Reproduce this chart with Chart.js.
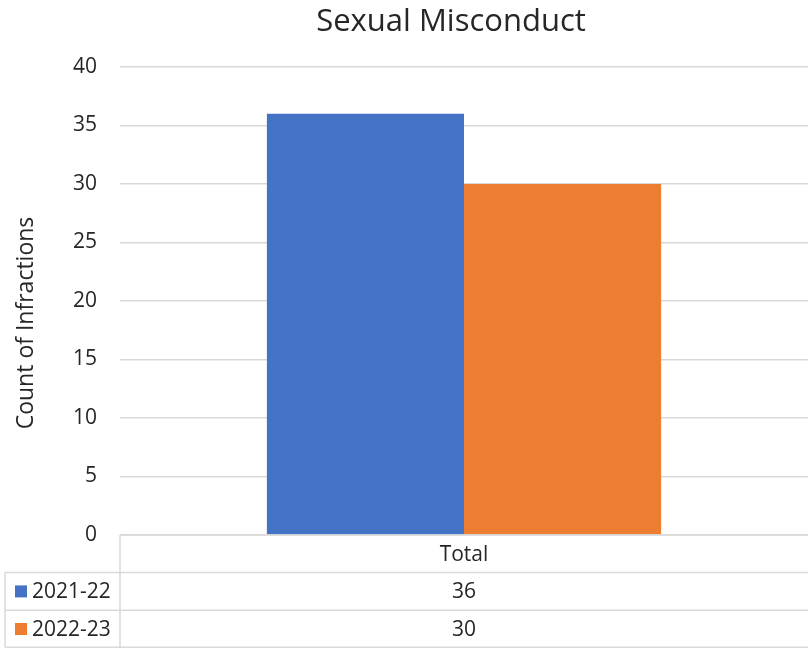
<!DOCTYPE html>
<html>
<head>
<meta charset="utf-8">
<title>Sexual Misconduct</title>
<script src="https://cdn.jsdelivr.net/npm/chart.js@4"></script>
<style>
  html, body { margin: 0; padding: 0; background: #fff; overflow: hidden; }
  #wrap { width: 808px; height: 649px; }
</style>
</head>
<body>
<div id="wrap"><canvas id="chart" width="808" height="649"></canvas></div>
<script>
// Chart data
const chartTitle = 'Sexual Misconduct';
const axisTitle = 'Count of Infractions';
const categories = ['Total'];
const seriesNames = ['2021-22', '2022-23'];
const values2122 = [36];
const values2223 = [30];
const seriesColors = ['#4472C4', '#ED7D31'];
const yMin = 0;
const yMax = 40;
const yStep = 5;

const textColor = '#262626';
const lineColor = '#d9d9d9';
const fontFamily = "'Open Sans', 'Noto Sans', sans-serif";

// Title, axis title and the data table under the plot
const tablePlugin = {
    id: 'excelTable',
    afterDraw(chart) {
        const ctx = chart.ctx;
        const area = chart.chartArea;
        const xScale = chart.scales.x;
        const rowH = 37.6;
        const tableLeft = 5;
        const right = chart.width;
        const top = area.bottom;
        const rows = [values2122, values2223];
        const bottom = top + rowH * (rows.length + 1) - 0.5;

        ctx.save();
        ctx.fillStyle = textColor;

        // chart title
        ctx.font = '31px ' + fontFamily;
        ctx.textAlign = 'center';
        ctx.textBaseline = 'alphabetic';
        ctx.fillText(chartTitle, (area.left + area.right) / 2 - 13, 31);

        // y axis title
        ctx.save();
        ctx.font = '23px ' + fontFamily;
        ctx.translate(33, (area.top + area.bottom) / 2 + 22);
        ctx.rotate(-Math.PI / 2);
        ctx.fillText(axisTitle, 0, 0);
        ctx.restore();

        // table lines
        ctx.strokeStyle = lineColor;
        ctx.lineWidth = 1.5;
        ctx.beginPath();
        ctx.moveTo(area.left, top);
        ctx.lineTo(right, top);
        for (let r = 1; r <= rows.length; r++) {
            const y = top + rowH * r;
            ctx.moveTo(tableLeft, y);
            ctx.lineTo(right, y);
        }
        ctx.moveTo(tableLeft, bottom);
        ctx.lineTo(right, bottom);
        ctx.moveTo(area.left, top);
        ctx.lineTo(area.left, bottom);
        ctx.moveTo(tableLeft, top + rowH);
        ctx.lineTo(tableLeft, bottom);
        ctx.stroke();

        // header row
        ctx.font = '21px ' + fontFamily;
        ctx.textAlign = 'center';
        categories.forEach((c, i) => {
            ctx.fillText(c, xScale.getPixelForValue(i), top + rowH / 2 + 7);
        });

        // series rows
        rows.forEach((vals, r) => {
            const mid = top + rowH * (r + 1.5);
            ctx.fillStyle = seriesColors[r];
            ctx.fillRect(15, mid - 6, 12, 12);
            ctx.fillStyle = textColor;
            ctx.textAlign = 'left';
            ctx.fillText(seriesNames[r], 32, mid + 7);
            ctx.textAlign = 'center';
            vals.forEach((v, i) => {
                ctx.fillText(String(v), xScale.getPixelForValue(i), mid + 7);
            });
        });
        ctx.restore();
    }
};

new Chart(document.getElementById('chart'), {
    type: 'bar',
    data: {
        labels: categories,
        datasets: [
            {
                label: seriesNames[0],
                data: values2122,
                backgroundColor: seriesColors[0],
                borderWidth: 0
            },
            {
                label: seriesNames[1],
                data: values2223,
                backgroundColor: seriesColors[1],
                borderWidth: 0
            }
        ]
    },
    options: {
        responsive: false,
        animation: false,
        devicePixelRatio: 1,
        layout: {
            padding: { top: 67, bottom: 114, left: 0, right: 0 }
        },
        datasets: {
            bar: {
                barPercentage: 1,
                categoryPercentage: 0.573
            }
        },
        scales: {
            x: {
                display: false
            },
            y: {
                min: yMin,
                max: yMax,
                afterFit(scale) {
                    scale.width = 120;
                },
                ticks: {
                    stepSize: yStep,
                    padding: 23,
                    color: textColor,
                    font: { family: fontFamily, size: 21 }
                },
                grid: {
                    color: lineColor,
                    lineWidth: 1.5,
                    drawTicks: false
                },
                border: { display: false }
            }
        },
        plugins: {
            legend: { display: false },
            title: { display: false },
            tooltip: { enabled: false }
        }
    },
    plugins: [tablePlugin]
});
</script>
</body>
</html>
